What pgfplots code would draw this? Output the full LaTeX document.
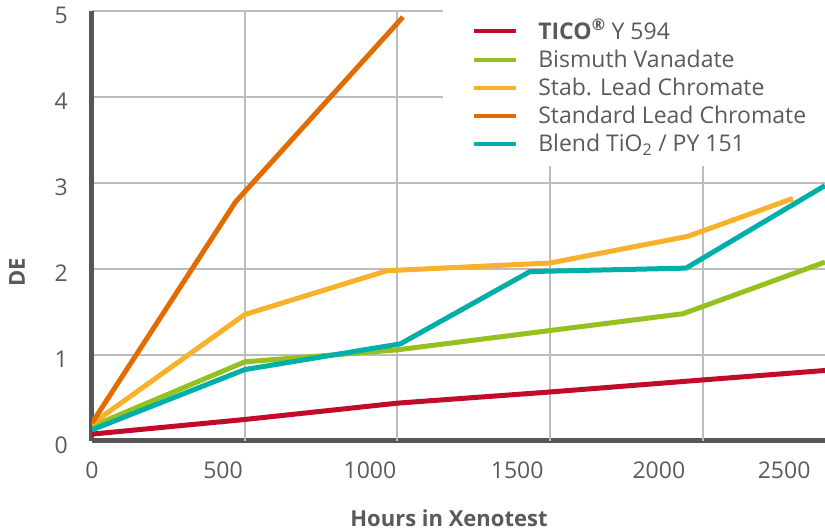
\documentclass[border=0pt]{standalone}
\usepackage{pgfplots}
\pgfplotsset{compat=1.18}
\usepackage{fontspec}
\setmainfont{Open Sans}
\definecolor{cred}{HTML}{C20A2B}
\definecolor{cgreen}{HTML}{95C11F}
\definecolor{cyellow}{HTML}{F9B02A}
\definecolor{corange}{HTML}{E36C00}
\definecolor{cteal}{HTML}{00AEAA}
\definecolor{gridgray}{HTML}{BDBDBD}
\definecolor{axisgray}{HTML}{565656}
\definecolor{textgray}{HTML}{5A5A5A}
\begin{document}
\fontsize{23}{27}\selectfont
\begin{tikzpicture}
\begin{axis}[
  scale only axis, width=733pt, height=430pt,
  xmin=0, xmax=2400, ymin=0, ymax=5,
  axis x line*=bottom, axis y line*=left,
  axis line style={-, line width=5pt, color=axisgray},
  major tick length=0pt,
  xtick={0,429,910,1392,1856,2266},
  xticklabels={0,500,1000,1500,2000,2500},
  extra x ticks={500,1000,1500,2000},
  extra x tick labels={,,,},
  extra x tick style={grid=major},
  ytick={0,1,2,3,4,5},
  ymajorgrids=true,
  major grid style={color=gridgray, line width=2pt},
  /pgf/number format/assume math mode=true,
  tick label style={text=textgray, font=\fontsize{23}{27}\selectfont},
  xticklabel style={inner sep=0pt, anchor=north, yshift=-21pt},
  yticklabel style={inner sep=0pt, anchor=east, xshift=-24pt, yshift=-4pt},
  xlabel={\textbf{Hours in Xenotest}},
  ylabel={\textbf{DE}},
  label style={text=textgray, font=\fontsize{22}{26}\selectfont},
  xlabel style={at={(axis description cs:0.487,-0.180)}, anchor=center},
  ylabel style={at={(axis description cs:-0.1023,0.393)}, anchor=center},
  legend style={at={(axis description cs:0.479,1.007)}, anchor=north west,
    fill=white, draw=none, inner xsep=29pt, inner ysep=11pt,
    row sep=5.5pt, column sep=20pt,
    nodes={inner sep=0pt, text=textgray}, font=\fontsize{23}{27}\selectfont},
  legend cell align=left,
  legend image code/.code={\draw[#1, line width=4pt] (0pt,0pt) -- (42pt,0pt);},
  every axis plot/.append style={line width=5pt, line join=round},
]
\addplot[color=cred] coordinates {(0,0.08) (500,0.25) (1000,0.44) (1500,0.57) (2000,0.71) (2400,0.82)};
\addlegendentry{\strut\textbf{TICO\textsuperscript{®}} Y 594}
\addplot[color=cgreen] coordinates {(0,0.17) (500,0.92) (1000,1.06) (1935,1.48) (2400,2.08)};
\addlegendentry{\strut Bismuth Vanadate}
\addplot[color=cyellow] coordinates {(0,0.2) (500,1.47) (966,1.98) (1500,2.07) (1951,2.38) (2295,2.82)};
\addlegendentry{\strut Stab. Lead Chromate}
\addplot[color=corange] coordinates {(0,0.21) (470,2.78) (1018,4.93)};
\addlegendentry{\strut Standard Lead Chromate}
\addplot[color=cteal] coordinates {(0,0.13) (500,0.83) (1010,1.13) (1434,1.97) (1945,2.01) (2400,2.97)};
\addlegendentry{\strut Blend TiO\textsubscript{2} / PY 151}
\end{axis}
\pgfresetboundingbox
\path[use as bounding box] ([xshift=-92pt,yshift=-90pt]current axis.south west) rectangle ([yshift=11pt]current axis.north east);
\end{tikzpicture}
\end{document}
